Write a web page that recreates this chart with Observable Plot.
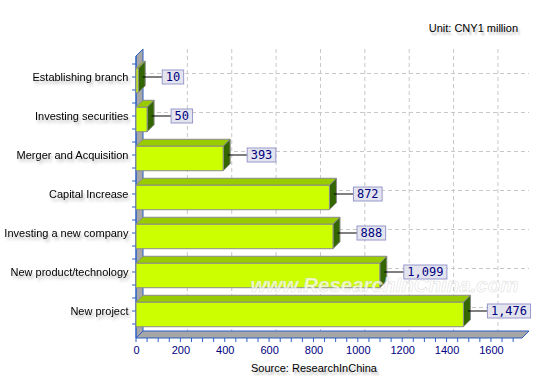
<!DOCTYPE html>
<html>
<head>
<meta charset="utf-8">
<script src="https://cdn.jsdelivr.net/npm/d3@7"></script>
<script src="https://cdn.jsdelivr.net/npm/@observablehq/plot@0.6"></script>
<style>
  html, body { margin: 0; padding: 0; background: #fff; }
  #wrap { position: relative; width: 542px; height: 391px; overflow: hidden; font-family: "Liberation Sans", Arial, sans-serif; }
  #wrap svg { position: absolute; left: 0; top: 0; }
  .note { position: absolute; font-size: 11px; color: #000; white-space: nowrap; line-height: 13px;
          text-shadow: 2px 3px 2px rgba(0,0,0,0.25); }
  #unit { right: 24px; top: 22px; }
  #source { left: 314px; top: 362px; transform: translateX(-50%); }
  g[aria-label="y-axis tick label"] { filter: drop-shadow(2px 3px 1.5px rgba(0,0,0,0.28)); }
</style>
</head>
<body>
<div id="wrap">
  <div id="unit" class="note">Unit: CNY1 million</div>
  <div id="source" class="note">Source: ResearchInChina</div>
</div>
<script>
const categories = [
  "Establishing branch",
  "Investing securities",
  "Merger and Acquisition",
  "Capital Increase",
  "Investing a new company",
  "New product/technology",
  "New project"
];
const values = [10, 50, 393, 872, 888, 1099, 1476];
const xTickValues = [0, 200, 400, 600, 800, 1000, 1200, 1400, 1600];
const xMinorTicks = d3.range(0, 1751, 50);
const xDomain = [0, 1740];
const watermark = "www.ResearchInChina.com";

const data = categories.map((c, i) => ({category: c, value: values[i]}));

const DEPTH = 7;
const C = {
  front: "#ccff00", top: "#99cc00", side: "#336600", edge: "#8c8c8c",
  wall: "#a6a6a6", axis: "#2b5fc4", grid: "#c8c8c8", boxFill: "#e4e4ee", boxStroke: "#9898cc", num: "#000080"
};

function scene(index, scales, vals, dims) {
  const x = scales.x, y = scales.y;
  const bw = y.bandwidth ? y.bandwidth() : (y(categories[1]) - y(categories[0]));
  const g = d3.create("svg:g");
  const x0 = x(0), xr = x(xDomain[1]);
  const yTop = dims.marginTop, yBot = dims.height - dims.marginBottom;
  const D = DEPTH;

  // back gridlines
  const grid = g.append("g").attr("stroke", C.grid).attr("stroke-dasharray", "4,3").attr("fill", "none");
  for (const t of xTickValues.slice(1)) {
    grid.append("line").attr("x1", x(t) + D).attr("x2", x(t) + D).attr("y1", yTop - D).attr("y2", yBot - D);
  }
  for (const c of categories) {
    const cy = y(c) + bw / 2 - D;
    grid.append("line").attr("x1", x0 + D).attr("x2", xr + D).attr("y1", cy).attr("y2", cy);
  }

  // left wall
  g.append("path")
    .attr("d", `M${x0},${yTop}L${x0 + D},${yTop - D}L${x0 + D},${yBot - D}L${x0},${yBot}Z`)
    .attr("fill", C.wall).attr("stroke", C.axis).attr("stroke-width", 1);
  // floor
  g.append("path")
    .attr("d", `M${x0},${yBot}L${xr},${yBot}L${xr + D},${yBot - D}L${x0 + D},${yBot - D}Z`)
    .attr("fill", C.wall).attr("stroke", C.axis).attr("stroke-width", 1);

  // axis ticks
  const ticks = g.append("g").attr("stroke", C.axis);
  for (const t of xMinorTicks) {
    if (t > xDomain[1]) continue;
    ticks.append("line").attr("x1", x(t)).attr("x2", x(t)).attr("y1", yBot).attr("y2", yBot + 4);
  }
  const step = bw / 3;
  for (const c of categories) {
    const cy = y(c) + bw / 2 - D / 2;
    for (const k of [-1, 0, 1]) {
      ticks.append("line").attr("x1", x0 - 4).attr("x2", x0).attr("y1", cy + k * step).attr("y2", cy + k * step);
    }
  }
  ticks.append("line").attr("x1", x0).attr("x2", x0).attr("y1", yTop).attr("y2", yBot);

  // bars
  const bh = bw * 0.627;
  const bars = g.append("g").attr("stroke", C.edge).attr("stroke-width", 1).attr("stroke-linejoin", "round");
  for (const d of data) {
    const xv = x(d.value);
    const yt = y(d.category) + (bw - bh) / 2;
    bars.append("path")
      .attr("d", `M${x0},${yt}L${xv},${yt}L${xv + D},${yt - D}L${x0 + D},${yt - D}Z`)
      .attr("fill", C.top);
    bars.append("path")
      .attr("d", `M${xv},${yt}L${xv + D},${yt - D}L${xv + D},${yt + bh - D}L${xv},${yt + bh}Z`)
      .attr("fill", C.side);
    bars.append("rect").attr("x", x0).attr("y", yt).attr("width", Math.max(0, xv - x0)).attr("height", bh)
      .attr("fill", C.front);
  }

  // watermark (behind value labels)
  const last = categories[categories.length - 1];
  g.append("text")
    .attr("x", x(1120)).attr("y", y(last) - 3)
    .attr("text-anchor", "middle")
    .attr("font-family", "'Liberation Sans', Arial, sans-serif").attr("font-style", "italic").attr("font-weight", "bold")
    .attr("font-size", 20.5).attr("fill", "rgba(255,255,255,0.75)").attr("stroke", "rgba(200,200,200,0.6)").attr("stroke-width", 0.6)
    .text(watermark);

  // value labels
  const fmt = d3.format(",");
  const labs = g.append("g");
  for (const d of data) {
    const xv = x(d.value);
    const cy = y(d.category) + bw / 2 - D / 2;
    const lx0 = xv + D / 2 + 1, lx1 = xv + D + 17;
    labs.append("line").attr("x1", lx0).attr("x2", lx1).attr("y1", cy).attr("y2", cy).attr("stroke", "#000");
    const s = fmt(d.value);
    const w = s.length * 7.22 + 7;
    labs.append("rect").attr("x", lx1).attr("y", cy - 7).attr("width", w).attr("height", 14)
      .attr("fill", C.boxFill).attr("stroke", C.boxStroke);
    labs.append("text").attr("x", lx1 + w / 2).attr("y", cy).attr("dy", "0.36em")
      .attr("text-anchor", "middle").attr("fill", C.num)
      .attr("font-family", "'DejaVu Sans Mono', 'Liberation Mono', monospace").attr("font-size", 12)
      .text(s);
  }
  return g.node();
}

const plot = Plot.plot({
  width: 542,
  height: 391,
  marginLeft: 136,
  marginRight: 20,
  marginTop: 56,
  marginBottom: 53,
  style: {fontFamily: "'Liberation Sans', Arial, sans-serif", background: "transparent", overflow: "visible"},
  x: {type: "linear", domain: xDomain},
  y: {type: "band", domain: categories, range: [60.5, 334.3], padding: 0},
  marks: [
    scene,
    Plot.axisY({tickSize: 0, tickPadding: 8, dy: -3.5, fontSize: 11, fill: "#000", label: null}),
    Plot.axisX({ticks: xTickValues, tickSize: 0, tickPadding: 8, fontSize: 11, fill: C.num, label: null, tickFormat: d3.format("d")})
  ]
});

const wrap = document.getElementById("wrap");
wrap.insertBefore(plot, wrap.firstChild);
</script>
</body>
</html>
